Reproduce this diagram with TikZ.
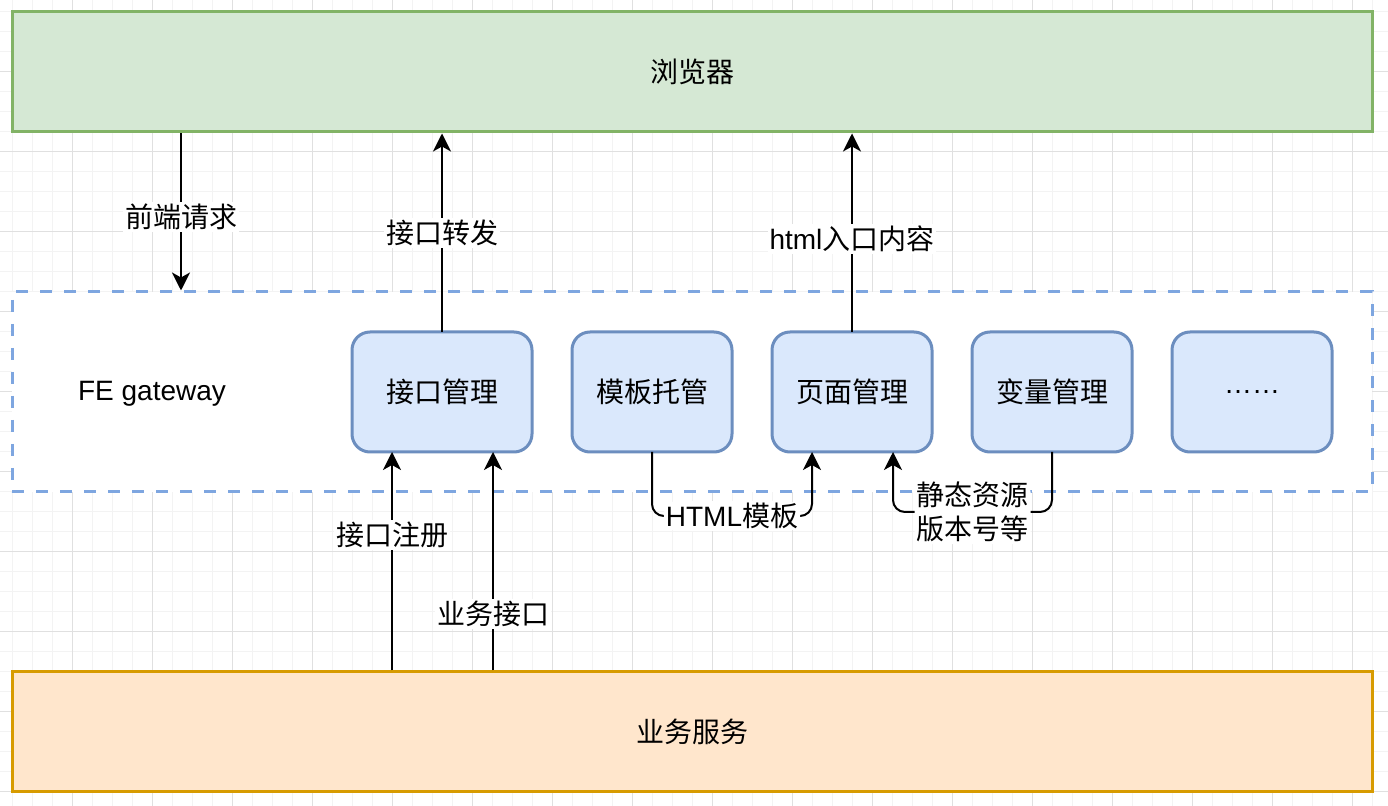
\documentclass[tikz,border=0pt]{standalone}
\usepackage{fontspec}
\setmainfont{Liberation Sans}
\newfontfamily\cjk{Noto Sans CJK SC}
\usetikzlibrary{arrows.meta, positioning}

\definecolor{browserfill}{HTML}{D5E8D4}
\definecolor{browserline}{HTML}{82B366}
\definecolor{bizfill}{HTML}{FFE6CC}
\definecolor{bizline}{HTML}{D79B00}
\definecolor{modfill}{HTML}{DAE8FC}
\definecolor{modline}{HTML}{6C8EBF}
\definecolor{gwline}{HTML}{7EA6E0}
\definecolor{gridminor}{HTML}{F3F3F3}
\definecolor{gridmajor}{HTML}{E0E0E0}

\begin{document}
\begin{tikzpicture}[
    x=0.5pt, y=-0.5pt,
    node distance=20pt,
    every node/.style={font=\fontsize{14pt}{17pt}\selectfont},
    layer/.style={rectangle, draw, line width=1.5pt, minimum width=680pt, minimum height=60pt},
    browserbox/.style={layer, fill=browserfill, draw=browserline},
    bizbox/.style={layer, fill=bizfill, draw=bizline},
    gatewaybox/.style={layer, fill=white, draw=gwline, dash pattern=on 6pt off 6pt, minimum height=100pt},
    module/.style={rectangle, rounded corners=9pt, draw=modline, fill=modfill, line width=1.5pt, minimum width=80pt, minimum height=60pt, outer sep=0pt},
    lbl/.style={fill=white, inner sep=1pt},
    arrow/.style={-{Stealth[length=9pt, width=9pt, inset=2.5pt]}, line width=1pt},
    link/.style={arrow, rounded corners=6pt}
]
\useasboundingbox (0,0) rectangle (1388,806);

% Grid
\foreach \gx in {12,32,...,1372} \draw[gridminor, line width=0.5pt] (\gx,0) -- (\gx,806);
\foreach \gy in {12,32,...,792} \draw[gridminor, line width=0.5pt] (0,\gy) -- (1388,\gy);
\foreach \gx in {72,152,...,1352} \draw[gridmajor, line width=0.5pt] (\gx,0) -- (\gx,806);
\foreach \gy in {72,152,...,792} \draw[gridmajor, line width=0.5pt] (0,\gy) -- (1388,\gy);

% Layers
\node[browserbox] (browser) at (692,72) {\cjk 浏览器};
\node[gatewaybox] (gateway) at (692,392) {};
\node[bizbox] (biz) at (692,732) {\cjk 业务服务};
\node (fegw) at (152,394) {FE gateway};

% Gateway modules
\node[module, minimum width=90pt] (api) at (442,392) {\cjk 接口管理};
\node[module, right=of api] (tpl) {\cjk 模板托管};
\node[module, right=of tpl] (page) {\cjk 页面管理};
\node[module, right=of page] (var) {\cjk 变量管理};
\node[module, right=of var] (more) {……};

\coordinate (reqx) at (181,0);
\coordinate (regin) at ([xshift=-25pt]api.south);
\coordinate (svcin) at ([xshift=25.5pt]api.south);
\coordinate (tplin) at ([xshift=-20pt]page.south);
\coordinate (staticin) at ([xshift=20.5pt]page.south);

% Arrows
\draw[arrow] (reqx |- browser.south) -- node[lbl, pos=0.53] {\cjk 前端请求} (reqx |- gateway.north);
\draw[arrow] (api.north) -- node[lbl] {\cjk 接口转发} (api.north |- browser.south);
\draw[arrow] (page.north) -- node[lbl, pos=0.47] {html\cjk 入口内容} (page.north |- browser.south);
\draw[arrow] (regin |- biz.north) -- node[lbl, pos=0.62] {\cjk 接口注册} (regin);
\draw[arrow] (svcin |- biz.north) -- node[lbl, pos=0.26] {\cjk 业务接口} (svcin);
\draw[link] (tpl.south) -- ++(0,64) -| node[lbl, pos=0.25] {HTML\cjk 模板} (tplin);
\draw[link] (var.south) -- ++(0,60) -| node[lbl, pos=0.25, align=center] {\cjk 静态资源\\\cjk 版本号等} (staticin);

\end{tikzpicture}
\end{document}
